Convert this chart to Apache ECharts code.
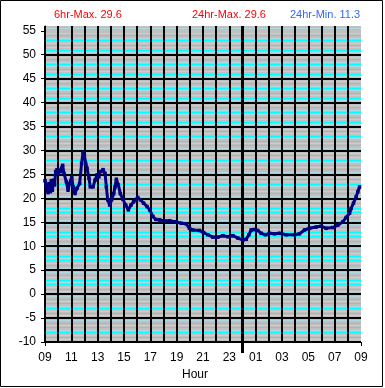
<!DOCTYPE html>
<html>
<head>
<meta charset="utf-8">
<script src="https://cdn.jsdelivr.net/npm/echarts@6/dist/echarts.min.js"></script>
<style>
html,body{margin:0;padding:0;background:#fff;}
#c{width:385px;height:388px;}
</style>
</head>
<body>
<div id="c"></div>
<script>
// Hours elapsed since 09:00 and temperature readings
const hours = [0.00,0.10,0.23,0.30,0.41,0.48,0.56,0.66,0.73,0.81,0.91,1.01,1.16,1.34,1.44,1.62,1.75,1.87,2.03,2.13,2.28,2.43,2.63,2.78,2.89,2.99,3.09,3.19,3.34,3.44,3.65,3.80,3.95,4.10,4.25,4.41,4.56,4.66,4.76,4.91,5.06,5.22,5.32,5.42,5.57,5.72,5.92,6.13,6.33,6.53,6.73,7.04,7.24,7.49,7.75,7.95,8.20,8.41,8.71,9.01,9.47,9.97,10.35,10.72,10.97,11.23,11.73,12.04,12.37,12.75,13.13,13.51,13.89,14.27,14.65,15.03,15.28,15.48,15.66,15.91,16.16,16.42,16.75,17.05,17.43,17.81,18.32,18.95,19.33,19.71,20.09,20.59,20.97,21.35,21.86,22.24,22.62,22.87,23.13,23.25,23.43,23.63,23.76,23.89];
const temps = [23.7,22.4,21.2,23.1,21.4,23.7,21.7,23.8,22.8,25.6,26.0,25.2,25.6,26.9,25.2,23.5,21.7,23.1,24.5,22.4,21.0,22.1,23.1,27.3,29.6,29.0,27.3,26.3,24.2,22.4,22.4,23.8,24.9,24.5,25.6,26.0,25.2,22.4,19.7,18.6,19.7,21.0,22.4,24.0,22.8,21.0,19.8,18.6,17.6,18.6,19.3,20.2,19.7,19.0,18.3,17.6,16.2,15.6,15.5,15.3,15.3,15.1,14.8,14.7,13.75,13.4,13.3,12.85,12.4,11.9,11.9,12.2,12.0,12.2,11.7,11.3,11.45,12.4,13.4,13.5,13.3,12.7,12.4,12.7,12.6,12.7,12.4,12.4,12.6,13.4,13.75,14.0,14.2,13.75,13.9,14.4,15.1,16.0,16.9,17.9,19.0,20.3,21.4,22.4];
const yTicks = [-10,-5,0,5,10,15,20,25,30,35,40,45,50,55];
const xLabelHours = [0,2,4,6,8,10,12,14,16,18,20,22,24];
const xEndTicks = [0,24];
const startHour = 9;
const midnightOffset = 15;
const headers = ['6hr-Max. 29.6','24hr-Max. 29.6','24hr-Min. 11.3'];

const FONT = 'Liberation Sans, Arial, sans-serif';
const chart = echarts.init(document.getElementById('c'), null, {renderer:'canvas'});

const pad = n => (n < 10 ? '0' : '') + n;
const hiddenX = {type:'value', min:0, max:24, position:'bottom', axisLine:{show:false, onZero:false}, axisLabel:{show:false}, splitLine:{show:false}};

chart.setOption({
  animation: false,
  backgroundColor: '#fff',
  title: [
    {text: headers[0], left: 54, top: 9, padding: 0, textStyle:{color:'#ff0000', fontSize:11, fontWeight:'normal', fontFamily:FONT}},
    {text: headers[1], left: 192, top: 9, padding: 0, textStyle:{color:'#ff0000', fontSize:11, fontWeight:'normal', fontFamily:FONT}},
    {text: headers[2], left: 290, top: 9, padding: 0, textStyle:{color:'#3366ff', fontSize:11, fontWeight:'normal', fontFamily:FONT}}
  ],
  grid: {left:45, right:24, top:26, bottom:46, show:true, backgroundColor:'#c0c0c0', borderWidth:0},
  xAxis: [{
    type:'value', min:0, max:24, interval:1, z:3, position:'bottom',
    axisLine:{show:true, onZero:false, lineStyle:{color:'#000', width:1}},
    axisTick:{show:false},
    axisLabel:{customValues: xLabelHours, margin:10, color:'#000', fontSize:12, fontFamily:FONT,
      formatter: v => pad((startHour + v) % 24)},
    splitLine:{show:true, showMaxLine:false, lineStyle:{color:'#000', width:2}},
    name:'Hour', nameLocation:'middle', nameGap:26,
    nameTextStyle:{color:'#000', fontSize:12, fontFamily:FONT, padding:[0,16,0,0]}
  },
  Object.assign({}, hiddenX, {z:3, axisTick:{show:true, length:4, customValues:xEndTicks, lineStyle:{color:'#000', width:1}}}),
  Object.assign({}, hiddenX, {z:4, axisTick:{show:true, length:11, customValues:[midnightOffset], lineStyle:{color:'#000', width:3}}})
  ],
  yAxis: [{
    type:'value', min:-10, max:56, interval:5, z:3,
    axisLine:{show:true, lineStyle:{color:'#000', width:1}},
    axisTick:{show:true, length:4, customValues:yTicks, lineStyle:{color:'#000'}},
    axisLabel:{customValues:yTicks, margin:9, color:'#000', fontSize:12, fontFamily:FONT},
    splitLine:{show:true, showMaxLine:false, lineStyle:{color:'#000', width:2}}
  },{
    type:'value', min:-10, max:56, interval:1, z:1, position:'right',
    axisLine:{show:false, onZero:false}, axisTick:{show:false}, axisLabel:{show:false},
    splitLine:{show:true, showMaxLine:false, lineStyle:{color:['rgba(0,0,0,0)','#00ffff','#00ffff','#00ffff','#00ffff'], width:1}}
  },{
    type:'value', min:-10, max:56, interval:0.5, z:0, position:'right',
    axisLine:{show:false, onZero:false}, axisTick:{show:false}, axisLabel:{show:false},
    splitLine:{show:true, showMaxLine:false, lineStyle:{color:['rgba(0,0,0,0)','#b0d8e0'], width:1}}
  }],
  series: [{
    type:'line', xAxisIndex:0, yAxisIndex:0, clip:false,
    data: hours.map((h,i)=>[h, temps[i]]),
    symbol:'rect', symbolSize:3.5, showSymbol:true,
    itemStyle:{color:'#000080'},
    lineStyle:{color:'#000080', width:3},
    z:5,
    markLine:{
      silent:true, symbol:'none', label:{show:false}, z:4,
      lineStyle:{color:'#000', width:3, type:'solid'},
      data:[[{coord:[midnightOffset, 56]},{coord:[midnightOffset, -10]}]]
    }
  }],
  graphic: [{
    type:'rect', shape:{x:0.5, y:0.5, width:382, height:386},
    style:{fill:'none', stroke:'#000', lineWidth:1}, silent:true, z:10
  }]
});
</script>
</body>
</html>
